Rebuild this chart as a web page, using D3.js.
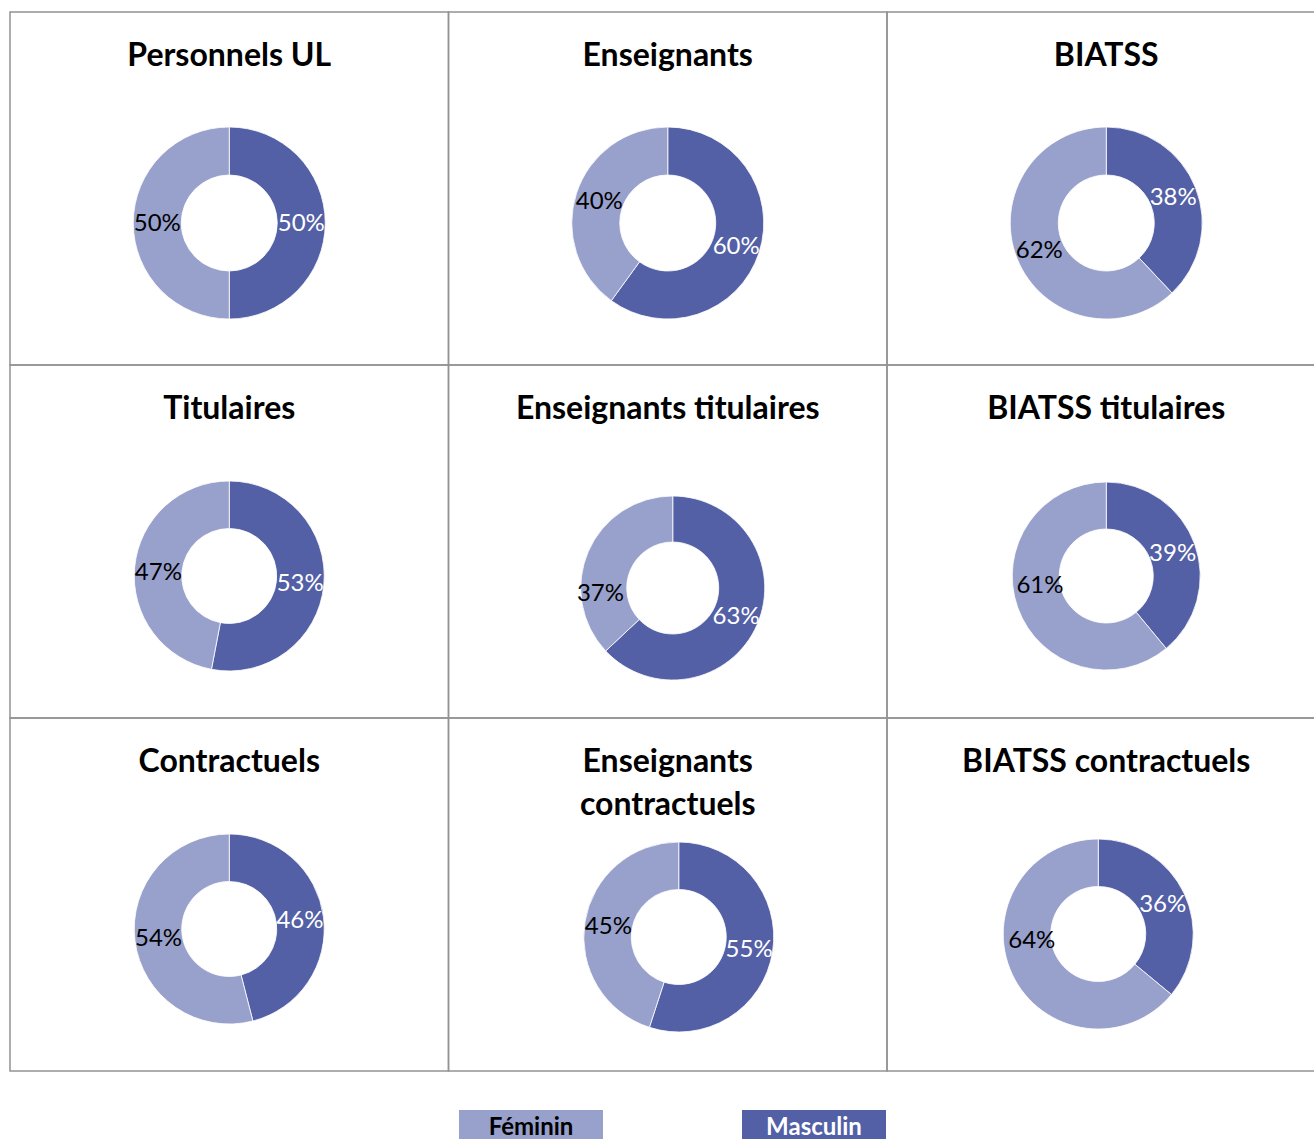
<!DOCTYPE html>
<html>
<head>
<meta charset="utf-8">
<script src="https://cdn.jsdelivr.net/npm/d3@7"></script>
<style>
  body { margin: 0; background: #fff; }
  svg { display: block; font-family: Lato, "Open Sans", sans-serif; }
</style>
</head>
<body>
<svg id="donuts" width="1314" height="1139"></svg>
<script>
// Panel titles (split into lines)
const titles = [
    ['Personnels UL'], ['Enseignants'], ['BIATSS'],
    ['Titulaires'], ['Enseignants titulaires'], ['BIATSS titulaires'],
    ['Contractuels'], ['Enseignants', 'contractuels'], ['BIATSS contractuels']
];
// Percentages by sex
const masculin = [50, 60, 38, 53, 63, 39, 46, 55, 36];
const feminin = [50, 40, 62, 47, 37, 61, 54, 45, 64];
const series = ['Féminin', 'Masculin'];

const colors = { 'Féminin': '#98a0cc', 'Masculin': '#5360a6' };
const labelColors = { 'Féminin': '#000', 'Masculin': '#fff' };

// small per-panel shifts of the donut within its cell (dx, dy, radius)
const donutLayout = [
    [0, 0, 96], [0, 0, 96], [0, 0, 96],
    [0, 0, 95], [5, 12, 92], [0, 0, 94],
    [0, 0, 95], [11, 8, 95], [-8, 5, 95]
];
// hand-moved féminin labels in the original (dx, dy from centroid)
const feminLabelShift = [
    [0, 0], [0, 0], [0, 0],
    [0, 2], [-9, 32], [0, -15],
    [0, 0], [0, 0], [-2, -25]
];

const svg = d3.select('#donuts');
const grid = { left: 10, top: 12, colW: 438.5, rowH: 353 };

const xCol = d3.scaleLinear().domain([0, 3]).range([grid.left, grid.left + 3 * grid.colW]);
const yRow = d3.scaleLinear().domain([0, 3]).range([grid.top, grid.top + 3 * grid.rowH]);

const pie = d3.pie().sort(null).value(d => d.value);

titles.forEach((title, i) => {
    const col = i % 3, row = Math.floor(i / 3);
    const x0 = xCol(col), y0 = yRow(row);
    const g = svg.append('g').attr('transform', `translate(${x0},${y0})`);

    // cell border
    g.append('rect')
        .attr('width', grid.colW).attr('height', grid.rowH)
        .attr('fill', 'none').attr('stroke', '#939393').attr('stroke-width', 1.5);

    // title
    g.append('text')
        .attr('x', grid.colW / 2)
        .attr('y', 54)
        .attr('text-anchor', 'middle')
        .attr('font-weight', 'bold')
        .attr('font-size', 32)
        .attr('fill', '#000')
        .selectAll('tspan')
        .data(title)
        .join('tspan')
        .attr('x', grid.colW / 2)
        .attr('dy', (d, k) => k === 0 ? 0 : 43)
        .text(d => d);

    const [dx, dy, r] = donutLayout[i];
    const arc = d3.arc().innerRadius(r * 0.5).outerRadius(r);
    const labelArc = d3.arc().innerRadius(r * 0.75).outerRadius(r * 0.75);

    const data = [
        { key: 'Masculin', value: masculin[i] },
        { key: 'Féminin', value: feminin[i] }
    ];

    const dg = g.append('g').attr('transform', `translate(${grid.colW / 2 + dx},${211 + dy})`);

    dg.selectAll('path')
        .data(pie(data))
        .join('path')
        .attr('d', arc)
        .attr('fill', d => colors[d.data.key])
        .attr('stroke', '#fff')
        .attr('stroke-width', 0.8);

    dg.selectAll('text')
        .data(pie(data))
        .join('text')
        .attr('transform', d => {
            const [cx, cy] = labelArc.centroid(d);
            const s = d.data.key === 'Féminin' ? feminLabelShift[i] : [0, 0];
            return `translate(${cx + s[0]},${cy + s[1]})`;
        })
        .attr('text-anchor', 'middle')
        .attr('dy', '0.35em')
        .attr('font-size', 24)
        .attr('fill', d => labelColors[d.data.key])
        .text(d => d.data.value + '%');
});

// Legend
const legendX = d3.scalePoint().domain(series).range([459, 742]);
const lg = svg.append('g');
lg.selectAll('rect')
    .data(series)
    .join('rect')
    .attr('x', d => legendX(d))
    .attr('y', 1110)
    .attr('width', 144)
    .attr('height', 40)
    .attr('fill', d => colors[d]);
lg.selectAll('text')
    .data(series)
    .join('text')
    .attr('x', d => legendX(d) + 72)
    .attr('y', 1135)
    .attr('text-anchor', 'middle')
    .attr('font-weight', 'bold')
    .attr('font-size', 24)
    .attr('fill', d => labelColors[d])
    .text(d => d);
</script>
</body>
</html>
